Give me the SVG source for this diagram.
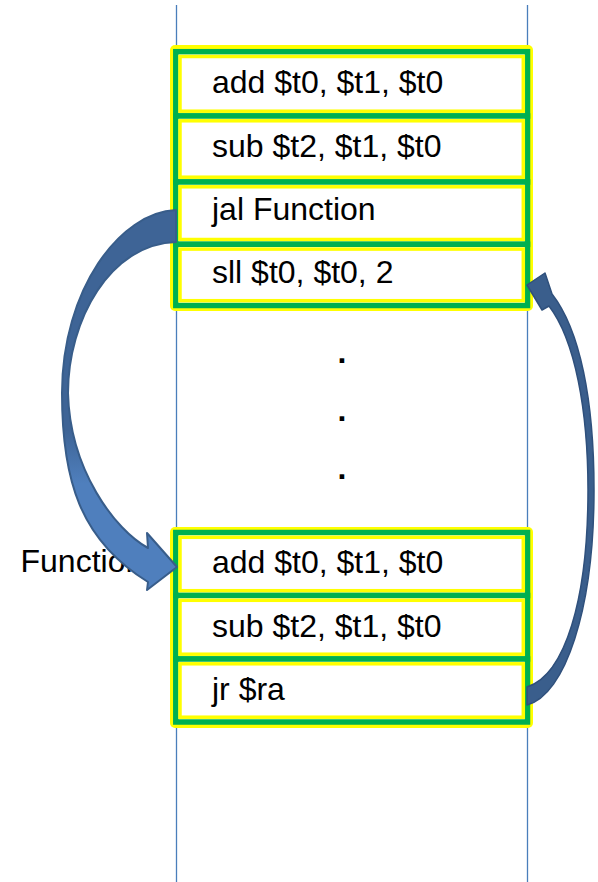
<svg xmlns="http://www.w3.org/2000/svg" width="598" height="882" viewBox="0 0 598 882">
<defs>
<style>
.vline{stroke:#4a7ebb;stroke-width:1.3;fill:none}
.grp{fill:#ffff00}
.cell{fill:#ffffff;stroke:#00b050;stroke-width:5.5}
.inner{fill:#ffffff;stroke:#ffff00;stroke-width:3.5}
.t{font-family:"Liberation Sans",Arial,sans-serif;font-size:32px;fill:#000000}
.dot{font-family:"Liberation Sans",Arial,sans-serif;font-size:32px;font-weight:bold;fill:#000000;text-anchor:middle}
</style>
<linearGradient id="lg" gradientUnits="userSpaceOnUse" x1="0" y1="210" x2="0" y2="590">
<stop offset="0" stop-color="#3e6496"/>
<stop offset="0.58" stop-color="#3e6496"/>
<stop offset="0.72" stop-color="#4f7fbd"/>
<stop offset="1" stop-color="#4f7fbd"/>
</linearGradient>
</defs>
<rect width="598" height="882" fill="#ffffff"/>
<g id="guides">
<line class="vline" x1="176.5" y1="5" x2="176.5" y2="882"/>
<line class="vline" x1="527.5" y1="5" x2="527.5" y2="882"/>
</g>
<g id="label-function">
<text class="t" x="20.5" y="572">Function</text>
</g>
<g id="top-block">
<rect class="grp" x="170" y="45" width="363" height="266" rx="5"/>
<g id="n1"><rect class="cell" x="175.8" y="51.7" width="351.7" height="64.3"/><rect class="inner" x="180" y="56.5" width="343.3" height="54.7"/><text class="t" x="212" y="93">add $t0, $t1, $t0</text></g>
<g id="n2"><rect class="cell" x="175.8" y="116" width="351.7" height="66"/><rect class="inner" x="180" y="120.8" width="343.3" height="56.4"/><text class="t" x="212" y="157">sub $t2, $t1, $t0</text></g>
<g id="n3"><rect class="cell" x="175.8" y="182" width="351.7" height="62.3"/><rect class="inner" x="180" y="186.8" width="343.3" height="52.7"/><text class="t" x="212" y="220">jal Function</text></g>
<g id="n4"><rect class="cell" x="175.8" y="244.3" width="351.7" height="61.2"/><rect class="inner" x="180" y="249.1" width="343.3" height="51.6"/><text class="t" x="212" y="283">sll $t0, $t0, 2</text></g>
</g>
<g id="ellipsis">
<text class="dot" x="342" y="363">.</text>
<text class="dot" x="342" y="420.5">.</text>
<text class="dot" x="342" y="479">.</text>
</g>
<g id="bottom-block">
<rect class="grp" x="170" y="527" width="363" height="201" rx="5"/>
<g id="n5"><rect class="cell" x="175.8" y="532.5" width="351.7" height="63"/><rect class="inner" x="180" y="537.3" width="343.3" height="53.4"/><text class="t" x="212" y="573">add $t0, $t1, $t0</text></g>
<g id="n6"><rect class="cell" x="175.8" y="595.5" width="351.7" height="63.5"/><rect class="inner" x="180" y="600.3" width="343.3" height="53.9"/><text class="t" x="212" y="637">sub $t2, $t1, $t0</text></g>
<g id="n7"><rect class="cell" x="175.8" y="659" width="351.7" height="63"/><rect class="inner" x="180" y="663.8" width="343.3" height="53.4"/><text class="t" x="212" y="700">jr $ra</text></g>
</g>
<g id="connectors">
<path id="jal-arrow" d="M176,210 C120,212 62,290 62,393 C62,480 80,540 148,582 L147,590 L177,567 L147,533 L148,548 C115,530 70,470 68,393 C68,320 110,244 176,242 Z" fill="url(#lg)" stroke="#385d8a" stroke-width="2" stroke-linejoin="round"/>
<path id="jr-arrow" d="M527,705 C565,695 594,610 594,490 C594,400 580,330 552,294 L545,273 L527,285 L542,310 L549,306 C575,340 588,410 588,490 C588,600 565,675 527,687 Z" fill="#3a5e8c" stroke="#2f507c" stroke-width="1.5" stroke-linejoin="round"/>
</g>
</svg>
